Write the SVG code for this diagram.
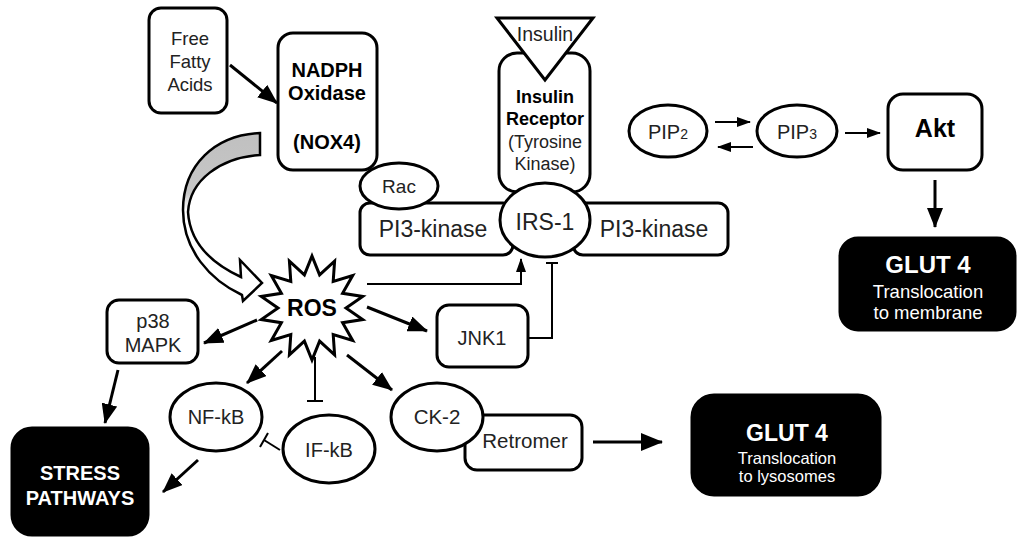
<svg xmlns="http://www.w3.org/2000/svg" width="1019" height="541" viewBox="0 0 1019 541">
<style>
.box{fill:#fff;stroke:#000;stroke-width:3}
.blk{fill:#000;stroke:#000;stroke-width:3}
.t{font-family:"Liberation Sans",Arial,sans-serif;fill:#222;text-anchor:middle}
.b{font-family:"Liberation Sans",Arial,sans-serif;font-weight:bold;fill:#000;text-anchor:middle}
.w{font-family:"Liberation Sans",Arial,sans-serif;fill:#fff;text-anchor:middle}
.ln{fill:none;stroke:#000;stroke-width:3}
.thin{fill:none;stroke:#000;stroke-width:2}
</style>
<defs>
<marker id="ah" viewBox="0 0 20 16" refX="19" refY="8" markerWidth="20" markerHeight="16" orient="auto" markerUnits="userSpaceOnUse"><path d="M0,0 L20,8 L0,16 z" fill="#000"/></marker>
<marker id="as" viewBox="0 0 14 10" refX="13" refY="5" markerWidth="14" markerHeight="10" orient="auto" markerUnits="userSpaceOnUse"><path d="M0,0 L14,5 L0,10 z" fill="#000"/></marker>
<marker id="al" viewBox="0 0 22 18" refX="21" refY="9" markerWidth="22" markerHeight="18" orient="auto" markerUnits="userSpaceOnUse"><path d="M0,0 L22,9 L0,18 z" fill="#000"/></marker>
<linearGradient id="gr" gradientUnits="userSpaceOnUse" x1="0" y1="133" x2="0" y2="300">
<stop offset="0" stop-color="#c0c0c0"/><stop offset="0.36" stop-color="#c6c6c6"/><stop offset="0.46" stop-color="#fff"/><stop offset="1" stop-color="#fff"/>
</linearGradient>
</defs>

<g id="connectors">
<line class="ln" x1="230" y1="65" x2="277" y2="103" marker-end="url(#ah)"/>
<line class="thin" x1="715" y1="122" x2="750" y2="122" marker-end="url(#as)"/>
<line class="thin" x1="753" y1="147" x2="718" y2="147" marker-end="url(#as)"/>
<line class="thin" x1="845" y1="133" x2="880" y2="133" marker-end="url(#as)"/>
<line class="ln" x1="935" y1="180" x2="935" y2="227" marker-end="url(#ah)"/>
<line class="ln" x1="257" y1="320" x2="204" y2="343" marker-end="url(#ah)"/>
<line class="ln" x1="282" y1="351" x2="247" y2="383" marker-end="url(#ah)"/>
<line class="thin" x1="315" y1="357" x2="315" y2="401"/>
<line class="thin" x1="307" y1="401" x2="323" y2="401"/>
<line class="ln" x1="347" y1="355" x2="392" y2="390" marker-end="url(#ah)"/>
<line class="ln" x1="367" y1="307" x2="427" y2="331" marker-end="url(#ah)"/>
<polyline class="thin" points="367,284 521,284 521,259" marker-end="url(#as)"/>
<polyline class="thin" points="528,338 552,338 552,263"/>
<line class="thin" x1="546" y1="263" x2="558" y2="263"/>
<line class="thin" x1="280" y1="450" x2="264" y2="440"/>
<line class="thin" x1="268" y1="433" x2="260" y2="447"/>
<line class="ln" x1="198" y1="460" x2="163" y2="492" marker-end="url(#ah)"/>
<line class="ln" x1="118" y1="370" x2="105" y2="423" marker-end="url(#ah)"/>
<line class="ln" x1="593" y1="442" x2="662" y2="442" marker-end="url(#al)"/>
<path id="bigarrow" d="M260,133 C215,135 183,165 183,210 C183,250 210,280 242,295 L243,301 L262,283 L240,260 L241,277 C215,265 190,245 188,212 C190,180 220,158 260,155 Z" fill="url(#gr)" stroke="#000" stroke-width="2.5" stroke-linejoin="miter"/>
</g>

<g id="ffa">
<rect class="box" x="149" y="8" width="78" height="105" rx="12"/>
<text class="t" font-size="18.5" x="190" y="45">Free</text>
<text class="t" font-size="18.5" x="190" y="68">Fatty</text>
<text class="t" font-size="18.5" x="190" y="91">Acids</text>
</g>

<g id="nadph">
<rect class="box" x="278" y="33" width="99" height="137" rx="15"/>
<text class="b" font-size="20" x="327" y="77">NADPH</text>
<text class="b" font-size="20" x="327" y="100">Oxidase</text>
<text class="b" font-size="20" x="327" y="149">(NOX4)</text>
</g>

<g id="receptor">
<rect class="box" x="499" y="53" width="91" height="139" rx="18"/>
<text class="b" font-size="18" x="545" y="103">Insulin</text>
<text class="b" font-size="18" x="545" y="125">Receptor</text>
<text class="t" font-size="18" x="545" y="148">(Tyrosine</text>
<text class="t" font-size="18" x="545" y="170">Kinase)</text>
</g>

<g id="insulin">
<polygon class="box" points="497,18 593,18 545,80" stroke-linejoin="miter"/>
<text class="t" font-size="19.5" x="545" y="41">Insulin</text>
</g>

<g id="pi3k-left">
<rect class="box" x="360" y="203" width="153" height="52" rx="10"/>
<text class="t" font-size="23" x="433" y="237">PI3-kinase</text>
</g>

<g id="pi3k-right">
<rect class="box" x="573" y="203" width="155" height="52" rx="10"/>
<text class="t" font-size="23" x="654" y="237">PI3-kinase</text>
</g>

<g id="rac">
<ellipse class="box" cx="399" cy="186" rx="39" ry="23"/>
<text class="t" font-size="19" x="399" y="193">Rac</text>
</g>

<g id="irs1">
<ellipse class="box" cx="545" cy="220" rx="45" ry="37"/>
<text class="t" font-size="23" x="545" y="230">IRS-1</text>
</g>

<g id="pip2">
<ellipse class="box" cx="668" cy="131" rx="39" ry="26"/>
<text class="t" font-size="20" x="668" y="139">PIP<tspan font-size="14">2</tspan></text>
</g>

<g id="pip3">
<ellipse class="box" cx="797" cy="131" rx="40" ry="26"/>
<text class="t" font-size="20" x="797" y="139">PIP<tspan font-size="14">3</tspan></text>
</g>

<g id="akt">
<rect class="box" x="888" y="94" width="94" height="76" rx="15"/>
<text class="b" font-size="25" x="935" y="137">Akt</text>
</g>

<g id="glut4-membrane">
<rect class="blk" x="840" y="238" width="175" height="92" rx="18"/>
<text class="w" font-size="24" font-weight="bold" x="928" y="273">GLUT 4</text>
<text class="w" font-size="18.5" x="928" y="298">Translocation</text>
<text class="w" font-size="18.5" x="928" y="319">to membrane</text>
</g>

<g id="ros">
<polygon class="box" stroke-linejoin="miter" points="312,256 319.6,274.9 334.6,261.2 333.2,281.4 352.7,275.6 342.6,293.3 362.7,296.4 346,308 362.7,319.6 342.6,322.7 352.7,340.4 333.2,334.6 334.6,354.9 319.6,341.1 312,360 304.4,341.1 289.4,354.9 290.8,334.6 271.3,340.4 281.4,322.7 261.3,319.6 278,308 261.3,296.4 281.4,293.3 271.3,275.6 290.8,281.4 289.4,261.2 304.4,274.9"/>
<text class="b" font-size="23" x="312" y="316">ROS</text>
</g>

<g id="p38">
<rect class="box" x="107" y="300" width="91" height="63" rx="12"/>
<text class="t" font-size="20" x="153" y="328">p38</text>
<text class="t" font-size="20" x="153" y="352">MAPK</text>
</g>

<g id="jnk1">
<rect class="box" x="437" y="305" width="91" height="62" rx="12"/>
<text class="t" font-size="20" x="482" y="345">JNK1</text>
</g>

<g id="stress">
<rect class="blk" x="12" y="428" width="136" height="107" rx="20"/>
<text class="w" font-size="20" font-weight="bold" x="80" y="480">STRESS</text>
<text class="w" font-size="20" font-weight="bold" x="80" y="505">PATHWAYS</text>
</g>

<g id="nfkb">
<ellipse class="box" cx="216" cy="417" rx="46" ry="34"/>
<text class="t" font-size="20" x="216" y="424">NF-kB</text>
</g>

<g id="ifkb">
<ellipse class="box" cx="329" cy="449" rx="46" ry="34"/>
<text class="t" font-size="20" x="329" y="457">IF-kB</text>
</g>

<g id="retromer">
<rect class="box" x="465" y="415" width="117" height="55" rx="12"/>
<text class="t" font-size="20.5" x="525" y="448">Retromer</text>
</g>

<g id="ck2">
<ellipse class="box" cx="437" cy="417" rx="46" ry="34"/>
<text class="t" font-size="20.5" x="437" y="424">CK-2</text>
</g>

<g id="glut4-lysosomes">
<rect class="blk" x="692" y="395" width="188" height="100" rx="22"/>
<text class="w" font-size="23" font-weight="bold" x="787" y="441">GLUT 4</text>
<text class="w" font-size="16.5" x="787" y="464">Translocation</text>
<text class="w" font-size="16.5" x="787" y="482">to lysosomes</text>
</g>
</svg>
